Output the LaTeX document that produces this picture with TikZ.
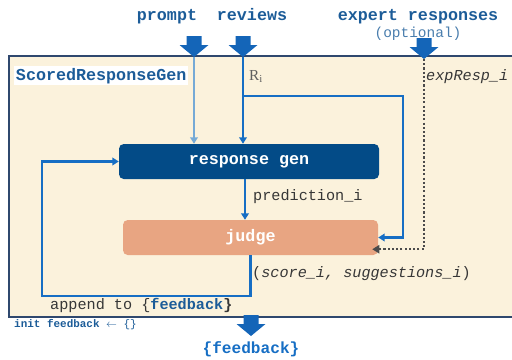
\documentclass[tikz,border=0pt]{standalone}
\usepackage{fontspec}
\setmainfont{Liberation Serif}
\setmonofont{Liberation Mono}
\usetikzlibrary{arrows.meta,calc}
\definecolor{titleblue}{RGB}{28,92,152}
\definecolor{arrowblue}{RGB}{20,101,184}
\definecolor{lineblue}{RGB}{22,110,196}
\definecolor{paleblue}{RGB}{118,170,214}
\definecolor{gennavy}{RGB}{3,75,135}
\definecolor{judgesalmon}{RGB}{232,165,130}
\definecolor{cream}{RGB}{251,242,220}
\definecolor{framenavy}{RGB}{47,72,110}
\definecolor{darktext}{RGB}{55,55,55}
\newcommand{\headfont}{\ttfamily\bfseries\fontsize{14.2}{16}\selectfont}
\newcommand{\labfont}{\ttfamily\fontsize{12.9}{15}\selectfont}
\tikzstyle{box}=[rounded corners=4pt,minimum width=221pt,minimum height=29.75pt,inner sep=0pt,text=white,font=\headfont]
\tikzstyle{lab}=[anchor=base west,inner sep=0pt,text=darktext,font=\labfont]
\tikzset{fatarrow/.pic={\fill[arrowblue] (-7.5,0) -- (7.5,0) -- (7.5,9) -- (14.5,9) -- (0,21) -- (-14.5,9) -- (-7.5,9) -- cycle;}}

\begin{document}
\begin{tikzpicture}[x=0.85pt,y=-0.85pt]
    \tikzstyle{tip}=[-{Triangle[length=5.5pt,width=6.5pt]}]
    \useasboundingbox (0,0) rectangle (512,360);
    \fill[cream] (9,56) rectangle (512,317);
    \draw[framenavy,line width=1.6pt] (512,56) -- (9,56) -- (9,317) -- (512,317);
    \node[fill=white,anchor=base west,inner sep=1.5pt,text=titleblue,font=\headfont] (title) at (14,80) {ScoredResponseGen};

    \node[anchor=base,inner sep=0pt,text=titleblue,font=\headfont] (prompt) at (167,20) {prompt};
    \node[anchor=base,inner sep=0pt,text=titleblue,font=\headfont] (reviews) at (252,20) {reviews};
    \node[anchor=base,inner sep=0pt,text=titleblue,font=\headfont] (expert) at (418,20) {expert responses};
    \node[anchor=base,inner sep=0pt,text=titleblue!80,font=\ttfamily\fontsize{12.3}{14}\selectfont] (optional) at (418,37) {(optional)};

    \pic at (194,36) {fatarrow};
    \pic at (243,36) {fatarrow};
    \pic at (424,38) {fatarrow};
    \pic at (251,315) {fatarrow};
    \coordinate (promptTip) at (194,57);
    \coordinate (reviewsTip) at (243,57);
    \coordinate (expTip) at (424,59);
    \coordinate (split) at (243,96);
    \coordinate (loopCorner) at (42,296);

    \node[box,fill=gennavy] (gen) at (249,161.5) {response gen};
    \node[box,fill=judgesalmon,minimum width=216.75pt] (judge) at (250.5,237.5) {judge};

    \draw[tip,paleblue,line width=1.3pt] (promptTip) -- (promptTip |- gen.north);
    \draw[tip,lineblue,line width=1.3pt] (reviewsTip) -- (reviewsTip |- gen.north);
    \draw[tip,lineblue,line width=1.8pt] (split) -| ($(judge.east)+(25,0)$) -- (judge.east);
    \draw[tip,lineblue,line width=1.8pt] (gen.south -| 245,0) -- (judge.north -| 245,0);
    \draw[tip,lineblue,line width=2pt] (judge.south) |- (loopCorner) |- (gen.west);
    \draw[darktext!90,line width=1.8pt,dash pattern=on 1.8pt off 1.8pt,-{Triangle[length=6pt,width=7pt]}] (expTip) |- ($(judge.south east)+(-6,-6)$);

    \node[lab,text=darktext!80,font=\rmfamily\fontsize{13}{15}\selectfont] (ri) at (249,80) {R$_{\mathrm{i}}$};
    \node[lab,font=\labfont\itshape] (expResp) at (426,80) {expResp\_i};
    \node[lab] (pred) at (253,200) {prediction\_i};
    \node[lab] (score) at (252,277) {(\textit{score\_i, suggestions\_i})};
    \node[lab] (append) at (50,309) {append to \{\textbf{\color{titleblue}feedback}\textbf{\}}};
    \node[lab,text=titleblue,font=\ttfamily\fontsize{9.3}{11}\selectfont] (init) at (14,327) {\textbf{init feedback} \ensuremath{\leftarrow} \{\}};
    \node[anchor=base,inner sep=0pt,text=lineblue,font=\ttfamily\bfseries\fontsize{13.7}{16}\selectfont] (feedback) at (251,353) {\{feedback\}};
\end{tikzpicture}
\end{document}
